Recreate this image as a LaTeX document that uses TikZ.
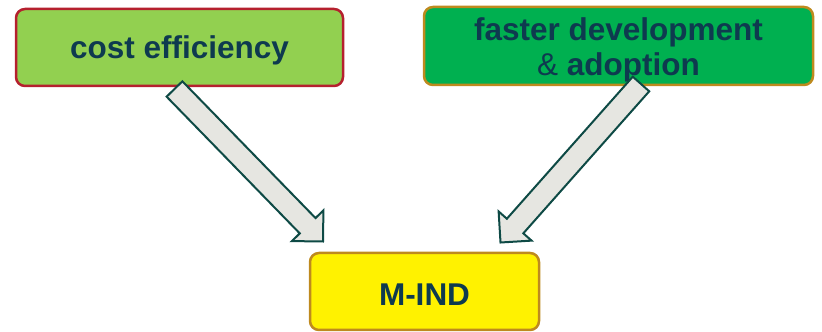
\documentclass[tikz,border=0pt]{standalone}
\usepackage{fontspec}
\setmainfont{Liberation Sans}
\usetikzlibrary{calc}
\definecolor{txtblue}{HTML}{0E3A4F}
\definecolor{costgreen}{HTML}{92D050}
\definecolor{costred}{HTML}{B5202E}
\definecolor{fastgreen}{HTML}{00B050}
\definecolor{boxgold}{HTML}{BE8A1E}
\definecolor{arrline}{HTML}{0E4A45}
\definecolor{arrfill}{HTML}{E6E6E1}
\newcommand{\blockarr}[2]{
\coordinate (h) at ($(#2)!22pt!(#1)$);
\filldraw[arrow box] ($(#1)!11pt!90:(#2)$)--($(h)!11pt!90:(#2)$)--($(h)!22pt!90:(#2)$)--(#2)
 --($(h)!22pt!-90:(#2)$)--($(h)!11pt!-90:(#2)$)--($(#1)!11pt!-90:(#2)$)--cycle;
}
\tikzset{
 goal box/.style={draw, rounded corners=9pt, line width=2.5pt, inner sep=0pt},
 goal text/.style={text=txtblue, font=\fontsize{31.5}{35}\selectfont\bfseries, align=center, inner sep=0pt},
 arrow box/.style={draw=arrline, fill=arrfill, line width=2pt, line join=miter}
}
\begin{document}
\begin{tikzpicture}[x=1pt,y=1pt]
\useasboundingbox (0,0) rectangle (822,332);

\node[goal box, fill=costgreen, draw=costred, minimum width=327pt, minimum height=77pt]
 (cost) at (179.5,284.5) {};
\node[goal box, fill=fastgreen, draw=boxgold, minimum width=389pt, minimum height=78pt]
 (faster) at (618.5,286) {};
\node[goal box, fill=yellow, draw=boxgold, minimum width=229pt, minimum height=77pt]
 (mind) at (424.5,40.5) {};

\node[goal text] (costtxt) at ([yshift=-3pt]cost.center) {cost efficiency};
\node[goal text] (fastertxt) at ([yshift=-4pt]faster.center) {faster development\\{\mdseries\&} adoption};
\node[goal text] (mindtxt) at ([yshift=-3.5pt]mind.center) {M-IND};

\coordinate (tail1) at (174.5,243);
\coordinate (tip1) at (323,90.5);
\coordinate (tail2) at (641,248);
\coordinate (tip2) at (500.5,89.5);

\blockarr{tail1}{tip1}
\blockarr{tail2}{tip2}

\end{tikzpicture}
\end{document}
